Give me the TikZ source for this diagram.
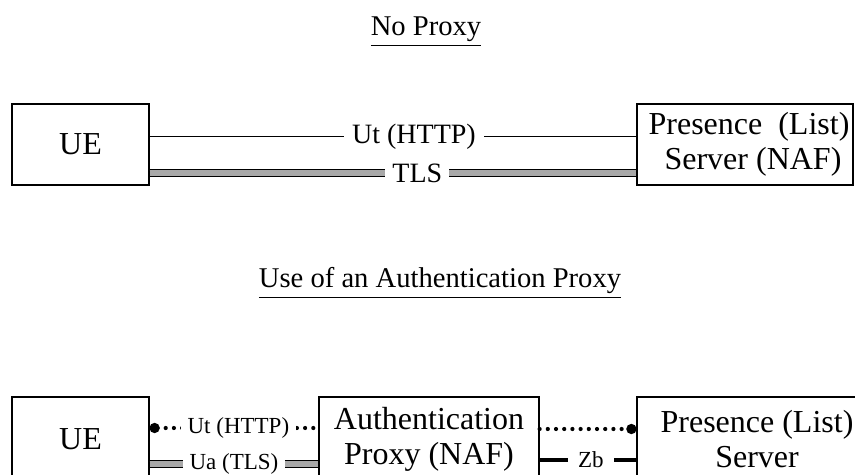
\documentclass[tikz,border=0pt]{standalone}
\usepackage{fontspec}
\setmainfont{Liberation Serif}
\usetikzlibrary{arrows.meta}
\definecolor{tlsgray}{RGB}{168,168,168}

\tikzset{
  box/.style={draw, line width=0.6pt, inner sep=0pt, align=center,
    font=\fontsize{16}{17.5}\selectfont},
  heading/.style={anchor=base, inner sep=0pt, font=\fontsize{14.3}{16}\selectfont},
  plainline/.style={line width=0.6pt},
  tlsline/.style={line width=0.6pt, double=tlsgray, double distance=3pt},
  dotline/.style={line width=2.1pt, line cap=round, dash pattern=on 0pt off 4.1pt},
  zbline/.style={line width=2pt},
  toplbl/.style={fill=white, inner ysep=0pt, inner xsep=4pt, font=\fontsize{14}{16}\selectfont},
  botlbl/.style={fill=white, inner ysep=0pt, inner xsep=3.5pt, font=\fontsize{11.5}{13}\selectfont}
}

\begin{document}
\begin{tikzpicture}[x=0.5pt, y=-0.5pt]
  \useasboundingbox (0,0) rectangle (855,475);
  \clip (0,0) rectangle (855,475);

  % no proxy
  \node[heading] (title1) at (426,36) {\underline{No Proxy}};
  \node[box, minimum width=68.5pt, minimum height=40.5pt] (ue1) at (80.5,144.5) {UE};
  \node[box, minimum width=108pt, minimum height=40.5pt] (srv1) at (745,144.5)
    {\hspace*{4pt}Presence\ \ (List)\\\hspace*{8pt}Server (NAF)};
  \draw[plainline] ([yshift=3.9pt]ue1.east) -- node[toplbl, pos=0.543] (ut1) {Ut (HTTP)}
    ([yshift=3.9pt]srv1.west);
  \draw[tlsline] ([yshift=-14.25pt]ue1.east) -- node[toplbl, pos=0.55, inner xsep=3.5pt] (tls1) {TLS}
    ([yshift=-14.25pt]srv1.west);

  % with authentication proxy
  \node[heading] (title2) at (440,288) {\underline{Use of an Authentication Proxy}};
  \node[box, minimum width=68.5pt, minimum height=42pt] (ue2) at (80.5,439) {UE};
  \node[box, minimum width=110pt, minimum height=42pt] (proxy) at (429,439)
    {Authentication\\Proxy (NAF)};
  \node[box, minimum width=120pt, minimum height=42pt] (srv2) at (757,439)
    {Presence (List)\\Server};
  \draw[dotline, {Circle[length=5pt]}-] ([yshift=5.5pt]ue2.east) --
    node[botlbl, pos=0.526] (ut2) {Ut (HTTP)} ([yshift=5.5pt]proxy.west);
  \draw[tlsline] ([yshift=-12.5pt]ue2.east) -- node[botlbl, pos=0.5] (ua) {Ua (TLS)}
    ([yshift=-12.5pt]proxy.west);
  \draw[dotline, -{Circle[length=5pt]}] ([yshift=5pt]proxy.east) -- ([yshift=5pt]srv2.west);
  \draw[zbline] ([yshift=-10.5pt]proxy.east) -- node[botlbl, pos=0.53, inner xsep=5pt] (zb) {Zb}
    ([yshift=-10.5pt]srv2.west);
\end{tikzpicture}
\end{document}
